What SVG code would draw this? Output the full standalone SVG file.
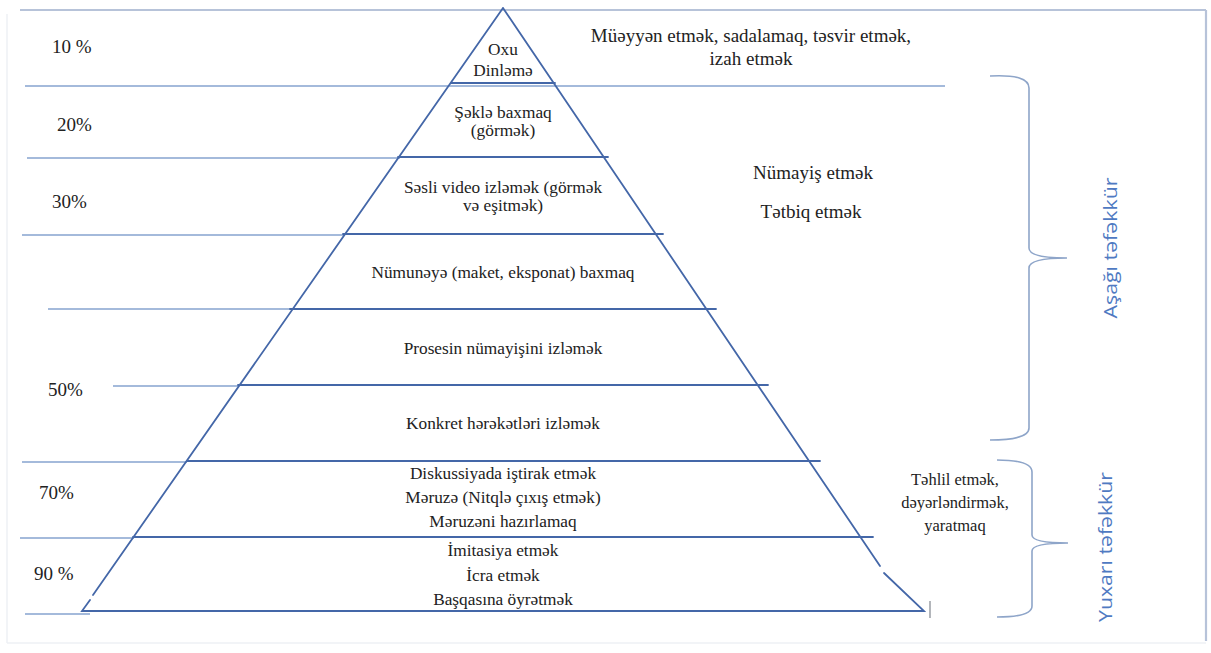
<svg xmlns="http://www.w3.org/2000/svg" width="1211" height="653" viewBox="0 0 1211 653">
<defs>
<style>
.pyr{stroke:#4467a8;stroke-width:1.8;fill:none;stroke-linecap:round}
.guide{stroke:#86a3cf;stroke-width:1.6;fill:none}
.brace{stroke:#8ea5c9;stroke-width:1.6;fill:none}
.t{font-size:17.3px;fill:#222;text-anchor:middle}
.r{font-size:19px;fill:#222;text-anchor:middle}
.s{font-size:16.5px;fill:#222;text-anchor:middle}
.p{font-size:19px;fill:#222}
.side{font-size:19px;fill:#4f7ac2;text-anchor:middle}
</style>
</defs>
<rect width="1211" height="653" fill="#ffffff"/>
<g id="frame">
<line x1="20" y1="10" x2="1206" y2="10" stroke="#b7c3d9" stroke-width="2.2"/>
<line x1="1206" y1="10" x2="1206" y2="641" stroke="#b7c3d9" stroke-width="2.2"/>
<line x1="7" y1="14" x2="7" y2="643" stroke="#eef0f5" stroke-width="1.5"/>
<line x1="7" y1="643" x2="1206" y2="643" stroke="#eef0f5" stroke-width="1.5"/>
</g>
<g id="connectors">
<line class="guide" x1="25" y1="86" x2="945" y2="86"/>
<line class="guide" x1="27" y1="158" x2="400" y2="158"/>
<line class="guide" x1="22" y1="235" x2="345" y2="235"/>
<line class="guide" x1="48" y1="309" x2="290" y2="309"/>
<line class="guide" x1="113" y1="386" x2="239" y2="386"/>
<line class="guide" x1="22" y1="462" x2="187" y2="462"/>
<line class="guide" x1="20" y1="538" x2="134" y2="538"/>
<line class="guide" x1="25" y1="614" x2="90" y2="614"/>
<line x1="930" y1="601" x2="930" y2="618" stroke="#a0a4aa" stroke-width="1.6"/>
</g>
<g id="pyramid">
<path class="pyr" d="M503 8 L93 595 M90 600 L82 611 L924 611 L884 573 M880 566 L503 8"/>
<line class="pyr" x1="451" y1="83" x2="555" y2="83"/>
<line class="pyr" x1="398" y1="157" x2="608" y2="157"/>
<line class="pyr" x1="343" y1="234" x2="663" y2="234"/>
<line class="pyr" x1="290" y1="309" x2="716" y2="309"/>
<line class="pyr" x1="238" y1="385" x2="768" y2="385"/>
<line class="pyr" x1="187" y1="461" x2="820" y2="461"/>
<line class="pyr" x1="133" y1="537" x2="873" y2="537"/>
</g>
<g font-family="Liberation Serif, Tinos, DejaVu Serif, serif">
<g id="level1"><text class="t" x="503" y="55">Oxu</text><text class="t" x="503" y="76">Dinləmə</text></g>
<g id="level2"><text class="t" x="503" y="118">Şəklə baxmaq</text><text class="t" x="503" y="136">(görmək)</text></g>
<g id="level3"><text class="t" x="503" y="193">Səsli video izləmək (görmək</text><text class="t" x="503" y="211">və eşitmək)</text></g>
<g id="level4"><text class="t" x="503" y="278">Nümunəyə (maket, eksponat) baxmaq</text></g>
<g id="level5"><text class="t" x="503" y="354">Prosesin nümayişini izləmək</text></g>
<g id="level6"><text class="t" x="503" y="429">Konkret hərəkətləri izləmək</text></g>
<g id="level7"><text class="t" x="503" y="479">Diskussiyada iştirak etmək</text><text class="t" x="503" y="503">Məruzə (Nitqlə çıxış etmək)</text><text class="t" x="503" y="527">Məruzəni hazırlamaq</text></g>
<g id="level8"><text class="t" x="503" y="556">İmitasiya etmək</text><text class="t" x="503" y="581">İcra etmək</text><text class="t" x="503" y="605">Başqasına öyrətmək</text></g>
<g id="percents">
<text class="p" x="52" y="53">10 %</text>
<text class="p" x="57" y="131">20%</text>
<text class="p" x="52" y="208">30%</text>
<text class="p" x="48" y="396">50%</text>
<text class="p" x="39" y="499">70%</text>
<text class="p" x="34" y="580">90 %</text>
</g>
<g id="right-labels">
<text class="r" x="751" y="42">Müəyyən etmək, sadalamaq, təsvir etmək,</text>
<text class="r" x="751" y="65">izah etmək</text>
<text class="r" x="813" y="179">Nümayiş etmək</text>
<text class="r" x="811" y="218">Tətbiq etmək</text>
<text class="s" x="955" y="485">Təhlil etmək,</text>
<text class="s" x="955" y="508">dəyərləndirmək,</text>
<text class="s" x="955" y="531">yaratmaq</text>
</g>
</g>
<g font-family="Open Sans, Liberation Sans, sans-serif">
<g id="brace-lower-thinking">
<path class="brace" d="M990 76 Q1029 74 1029 88 L1029 248 Q1029 258 1067 258 Q1029 258 1029 268 L1029 428 Q1029 440 990 440"/>
<text class="side" transform="translate(1117 248) rotate(-90)" textLength="141" lengthAdjust="spacingAndGlyphs">Aşağı təfəkkür</text>
</g>
<g id="brace-higher-thinking">
<path class="brace" d="M997 460 Q1032 460 1032 472 L1032 535 Q1032 543 1068 543 Q1032 543 1032 551 L1032 606 Q1032 617 997 617"/>
<text class="side" transform="translate(1112 547) rotate(-90)" textLength="150" lengthAdjust="spacingAndGlyphs">Yuxarı təfəkkür</text>
</g>
</g>
</svg>
